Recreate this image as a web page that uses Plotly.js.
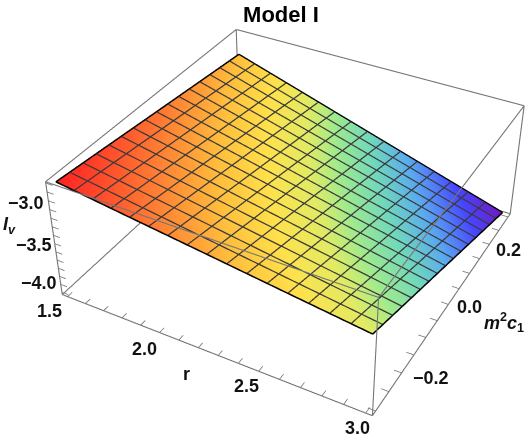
<!DOCTYPE html>
<html>
<head>
<meta charset="utf-8">
<script src="https://cdn.plot.ly/plotly-3.0.1.min.js"></script>
<style>
html,body{margin:0;padding:0;width:528px;height:440px;overflow:hidden;background:#fff}
#frame{position:absolute;left:0;top:0;width:528px;height:440px;overflow:hidden}
#plot{position:absolute;left:-304px;top:-301px;width:1200px;height:1000px}
</style>
</head>
<body>
<div id="frame"><div id="plot"></div></div>
<script>
var rValues=[1.5,1.875,2.25,2.625,3.0];
var cValues=[-0.3,-0.15,0,0.15,0.3];
var ivValues=[
 [-2.81,-2.924,-3.037,-3.152,-3.265],
 [-2.871,-3.021,-3.173,-3.323,-3.474],
 [-2.933,-3.12,-3.307,-3.495,-3.682],
 [-2.994,-3.218,-3.443,-3.666,-3.891],
 [-3.055,-3.316,-3.578,-3.839,-4.10]
];
var colorValues=[
 [1,.88,.76,.64,.52],
 [.93,.795,.66,.525,.39],
 [.86,.71,.56,.41,.26],
 [.79,.625,.46,.295,.13],
 [.72,.54,.36,.18,0]
];
var colorStops=[
 [0,'rgb(112,26,190)'],[.12,'rgb(70,70,255)'],[.25,'rgb(90,170,240)'],[.35,'rgb(110,215,190)'],
 [.45,'rgb(160,235,140)'],[.52,'rgb(225,235,100)'],[.62,'rgb(255,225,75)'],[.72,'rgb(255,190,60)'],
 [.85,'rgb(255,120,50)'],[1,'rgb(255,35,35)']
];
var rRange=[1.47,3.03], cRange=[-0.312,0.312], ivRange=[-4.13,-2.785];
var rAxis=[1.466,3.034], cAxis=[-0.3136,0.3136], ivAxis=[-4.1335,-2.7815];
var rMajor=['1.5','2.0','2.5','3.0'];
var cMajor=['-0.2','0.0','0.2'];
var ivMajor=['-3.0','-3.5','-4.0'];
var rMinor=[1.5,1.6,1.7,1.8,1.9,2.0,2.1,2.2,2.3,2.4,2.5,2.6,2.7,2.8,2.9,3.0];
var cMinor=[-.3,-.25,-.2,-.15,-.1,-.05,0,.05,.1,.15,.2,.25,.3];
var ivMinor=[-2.8,-2.9,-3,-3.1,-3.2,-3.3,-3.4,-3.5,-3.6,-3.7,-3.8,-3.9,-4,-4.1];
var meshCells=16;

var W=1200,H=1000,L=304,T=301;
function px(x){return (x+L)/W}
function py(y){return 1-(y+T)/H}

function sample(r,c){
 var u=(r-rValues[0])/(rValues[4]-rValues[0])*4, v=(c-cValues[0])/(cValues[4]-cValues[0])*4;
 var i=Math.min(3,Math.floor(u)), j=Math.min(3,Math.floor(v)); var a=u-i,b=v-j;
 return (1-a)*(1-b)*ivValues[j][i]+a*(1-b)*ivValues[j][i+1]+(1-a)*b*ivValues[j+1][i]+a*b*ivValues[j+1][i+1];
}
function lineSet(){return {x:[],y:[],z:[]}}
function seg(s,p,q){s.x.push(p[0],q[0],NaN);s.y.push(p[1],q[1],NaN);s.z.push(p[2],q[2],NaN)}
var lift=0.006;
var mesh=lineSet(), edge=lineSet();
for(var m=0;m<=meshCells;m++){
 var t=m/meshCells, target=(m===0||m===meshCells)?edge:mesh;
 var rr=rValues[0]+t*(rValues[4]-rValues[0]), cc=cValues[0]+t*(cValues[4]-cValues[0]);
 for(var k=0;k<=meshCells;k++){
  var s=k/meshCells;
  var c2=cValues[0]+s*(cValues[4]-cValues[0]);
  target.x.push(rr);target.y.push(c2);target.z.push(sample(rr,c2)+lift);
 }
 target.x.push(NaN);target.y.push(NaN);target.z.push(NaN);
 for(var k=0;k<=meshCells;k++){
  var s=k/meshCells;
  var r2=rValues[0]+s*(rValues[4]-rValues[0]);
  target.x.push(r2);target.y.push(cc);target.z.push(sample(r2,cc)+lift);
 }
 target.x.push(NaN);target.y.push(NaN);target.z.push(NaN);
}
var box=lineSet();
var x0=rRange[0],x1=rRange[1],y0=cRange[0],y1=cRange[1],z0=ivRange[0],z1=ivRange[1];
[[[x0,y0,z0],[x1,y0,z0]],[[x1,y0,z0],[x1,y1,z0]],[[x1,y1,z0],[x0,y1,z0]],[[x0,y1,z0],[x0,y0,z0]],
 [[x0,y0,z1],[x1,y0,z1]],[[x1,y0,z1],[x1,y1,z1]],[[x1,y1,z1],[x0,y1,z1]],[[x0,y1,z1],[x0,y0,z1]],
 [[x0,y0,z0],[x0,y0,z1]],[[x1,y0,z0],[x1,y0,z1]],[[x1,y1,z0],[x1,y1,z1]],[[x0,y1,z0],[x0,y1,z1]]
].forEach(function(e){seg(box,e[0],e[1])});
var ticks=lineSet();
rMinor.forEach(function(v){seg(ticks,[v,y0,z0],[v,y0+0.014,z0])});
cMinor.forEach(function(v){seg(ticks,[x1,v,z0],[x1-0.035,v,z0])});
ivMinor.forEach(function(v){seg(ticks,[x0,y0,v],[x0+0.035,y0,v])});

function lineTrace(s,color,width){return {type:'scatter3d',mode:'lines',x:s.x,y:s.y,z:s.z,line:{color:color,width:width},hoverinfo:'skip',showlegend:false,connectgaps:false}}
var data=[
 {type:'surface',x:rValues,y:cValues,z:ivValues,surfacecolor:colorValues,colorscale:colorStops,cmin:0,cmax:1,showscale:false,hoverinfo:'skip',
  lighting:{ambient:1,diffuse:0,specular:0,roughness:1,fresnel:0},contours:{x:{show:false},y:{show:false},z:{show:false}}},
 lineTrace(mesh,'#3a3a3a',2.5),
 lineTrace(edge,'#000000',3),
 lineTrace(box,'#757575',2.2),
 lineTrace(ticks,'#757575',1.6)
];
var tf={family:'Liberation Sans',size:18,color:'#111'};
function lab(x,y,z,t,dx,dy){return {x:x,y:y,z:z,text:'<b>'+t.replace('-','\u2212')+'</b>',showarrow:false,xshift:dx,yshift:dy,font:tf}}
var rDx=[-18,-15,-12,-8], rDy=[-14,-16,-15,-15];
var cDx=[29,21,19], cDy=[-5,-3,-6];
var ivDx=[-22,-21,-22], ivDy=[-2,-1,1];
var ann=[];
rMajor.forEach(function(t,i){ann.push(lab(+t,y0,z0,t,rDx[i],rDy[i]))});
cMajor.forEach(function(t,i){ann.push(lab(x1,+t,z0,t,cDx[i],cDy[i]))});
ivMajor.forEach(function(t,i){ann.push(lab(x0,y0,+t,t,ivDx[i],ivDy[i]))});
var layout={
 width:W,height:H,margin:{l:0,r:0,t:0,b:0},paper_bgcolor:'#fff',showlegend:false,
 title:{text:'<b>Model I</b>',x:px(281),y:py(14),xref:'paper',yref:'paper',xanchor:'center',yanchor:'middle',font:{family:'Liberation Sans',size:22,color:'#000'}},
 scene:{domain:{x:[0,1],y:[0,1]},aspectmode:'manual',aspectratio:{x:1,y:1,z:0.4},
  xaxis:{visible:false,range:rAxis},yaxis:{visible:false,range:cAxis},zaxis:{visible:false,range:ivAxis},
  camera:{eye:{x:1.38,y:-2.51,z:2.066},center:{x:0,y:0,z:0},up:{x:0,y:0,z:1},projection:{type:'perspective'}},
  annotations:ann},
 annotations:[
  {xref:'paper',yref:'paper',x:px(186),y:py(386),text:'<b>r</b>',showarrow:false,font:tf},
  {xref:'paper',yref:'paper',x:px(526),y:py(322),text:'<b><i>m</i><sup>2</sup><i>c</i><sub>1</sub></b>',showarrow:false,font:tf},
  {xref:'paper',yref:'paper',x:px(1),y:py(225),text:'<b><i>I</i><sub><i>v</i></sub></b>',showarrow:false,font:tf}
 ]
};
Plotly.newPlot('plot',data,layout,{displayModeBar:false,responsive:false});
</script>
</body>
</html>
